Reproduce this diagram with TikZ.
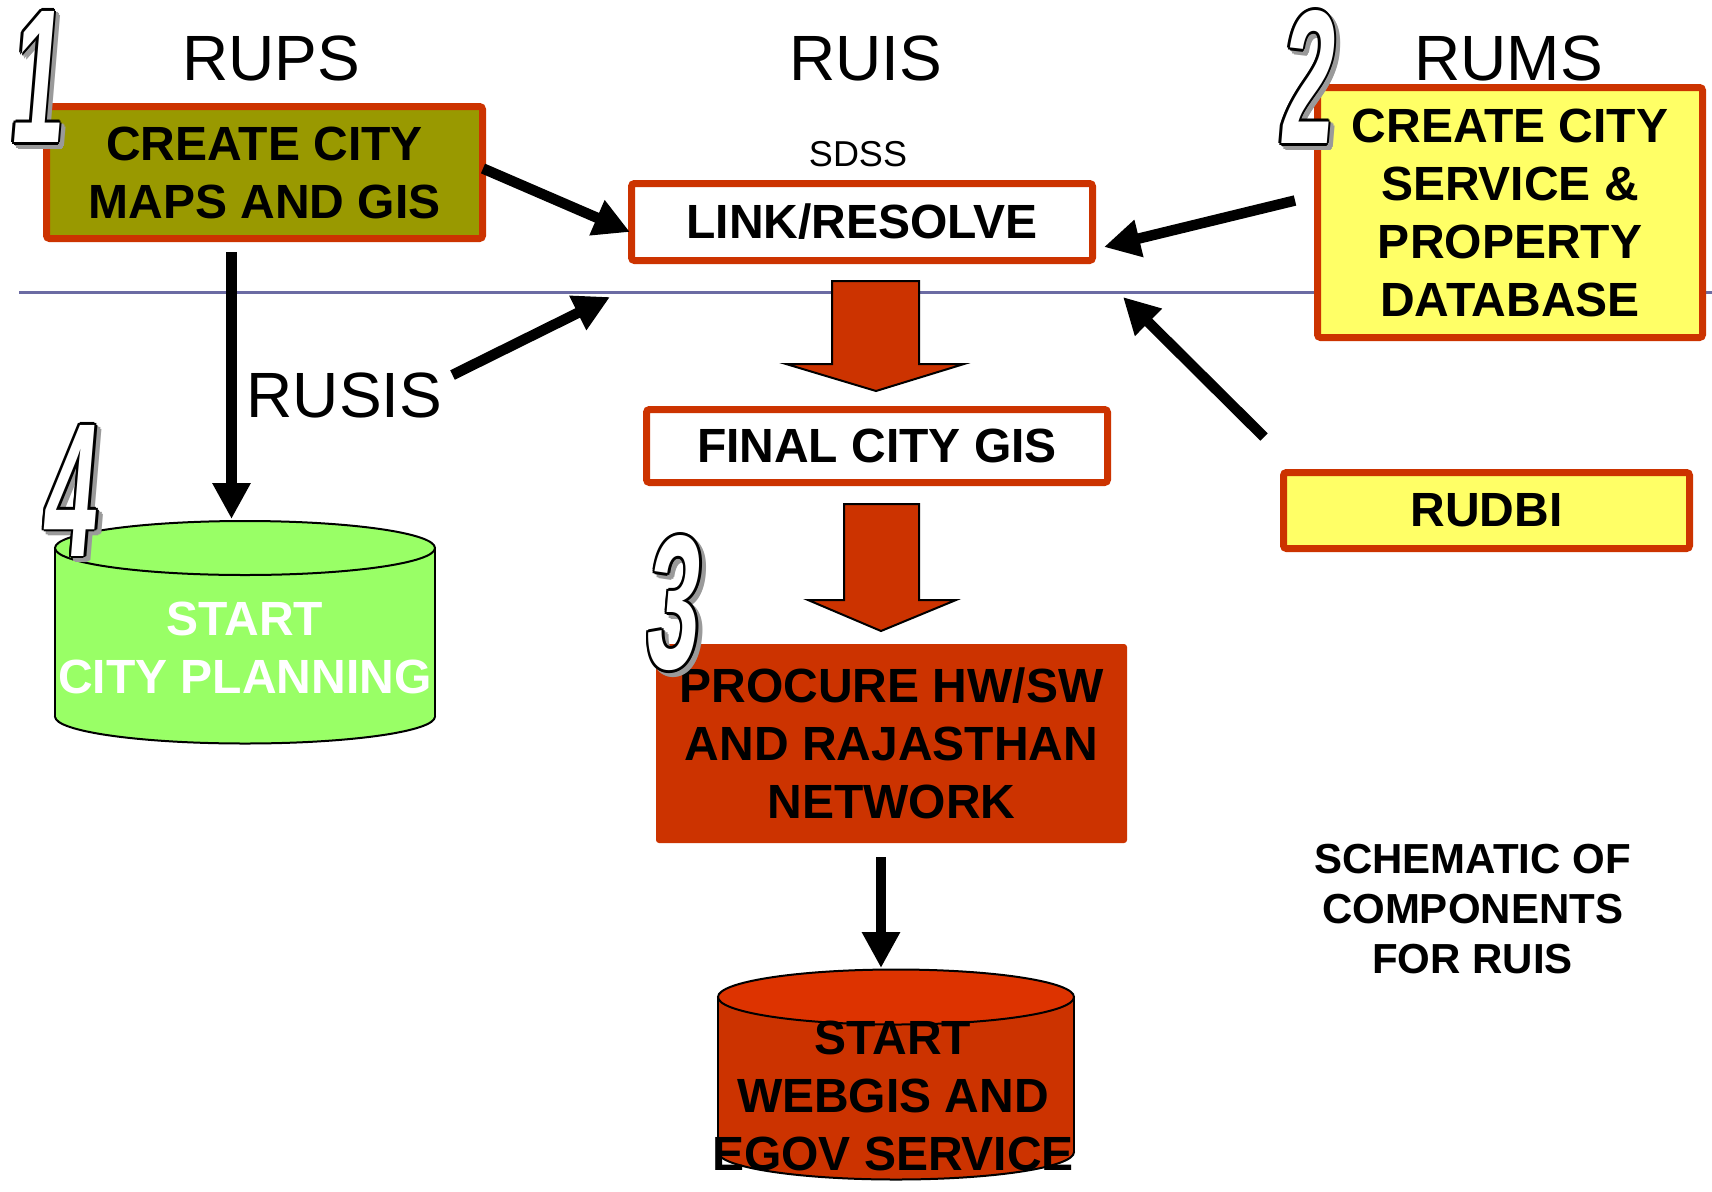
\documentclass[tikz,border=0pt]{standalone}
\usepackage{fontspec}
\setmainfont{Liberation Sans}
\usetikzlibrary{arrows.meta,calc}

\definecolor{brick}{HTML}{CC3300}
\definecolor{olivefill}{HTML}{999900}
\definecolor{lemon}{HTML}{FFFF66}
\definecolor{mint}{HTML}{99FF66}
\definecolor{drumtop}{HTML}{DD3300}
\definecolor{rulecol}{HTML}{6B6BA3}
\definecolor{shadowgray}{HTML}{9A9A9A}

\newcommand\boxfont{\fontsize{48}{58}\selectfont\bfseries}
\newcommand\titlefont{\fontsize{64}{70}\selectfont}
\newcommand\numeralfont{\fontsize{150}{150}\selectfont\bfseries}

% outlined, slanted step numeral with a grey drop shadow
\newcommand\drawnumeral[4]{%
  \foreach \dx/\dy [count=\k] in {2.6/0,-2.6/0,0/2.6,0/-2.6,1.8/1.8,1.8/-1.8,-1.8/1.8,-1.8/-1.8}{%
    \node[numeral, text=shadowgray] (#1-s\k) at ({#2+\dx+4},{#3+\dy+4}) {#4};
  }%
  \foreach \dx/\dy [count=\k] in {2.6/0,-2.6/0,0/2.6,0/-2.6,1.8/1.8,1.8/-1.8,-1.8/1.8,-1.8/-1.8}{%
    \node[numeral, text=black] (#1-o\k) at ({#2+\dx},{#3+\dy}) {#4};
  }%
  \node[numeral, text=white] (#1) at (#2,#3) {#4};
}

% database drum: left x, right x, top-ellipse y, bottom-ellipse y, y radius, body colour, top colour
\newcommand\drum[7]{%
  \pgfmathsetmacro\drumcx{(#1+#2)/2}%
  \pgfmathsetmacro\drumrx{(#2-#1)/2}%
  \filldraw[fill=#6, draw=black, line width=2pt] (\drumcx,#4) ellipse[x radius=\drumrx, y radius=#5];
  \fill[#6] (#1,#3) rectangle (#2,#4);
  \draw[line width=2pt] (#1,#3) -- (#1,#4) (#2,#3) -- (#2,#4);
  \filldraw[fill=#7, draw=black, line width=2pt] (\drumcx,#3) ellipse[x radius=\drumrx, y radius=#5];
}

\tikzset{
  redbox/.style={draw=brick, line width=7pt, rounded corners=3pt, inner sep=0pt,
                 align=center, font=\boxfont},
  title/.style={font=\titlefont, inner sep=0pt},
  label/.style={inner sep=0pt, align=center},
  conn/.style={line width=10.5pt, -{Triangle[length=36pt,width=36pt]}},
  blockarrow/.style={fill=brick, draw=black, line width=2pt, line join=miter},
  numeral/.style={font=\numeralfont, inner sep=0pt, xscale=0.63, yscale=1.27, xslant=0.17},
}

\begin{document}
\begin{tikzpicture}[x=1pt, y=-1pt]
\useasboundingbox (0,0) rectangle (1712,1191);
\fill[white] (0,0) rectangle (1712,1191);

% separating rule
\draw[rulecol, line width=3pt] (19,292) -- (1712,292);

% column titles
\node[title] (rups) at (271,58) {RUPS};
\node[title] (ruis) at (866,58) {RUIS};
\node[title] (rums) at (1508.5,58) {RUMS};
\node[title] (rusis) at (344.5,395) {RUSIS};
\node[label, font=\fontsize{36}{40}\selectfont] (sdss) at (858,154) {SDSS};

% process boxes
\node[redbox, fill=olivefill, minimum width=436pt, minimum height=132pt] (b1) at (264.5,172.5) {CREATE CITY\\MAPS AND GIS};
\node[redbox, fill=lemon, minimum width=385pt, minimum height=250pt] (b2) at (1510,212.5) {CREATE CITY\\SERVICE \&\\PROPERTY\\DATABASE};
\node[redbox, fill=white, minimum width=461pt, minimum height=77pt] (link) at (862,222) {LINK/RESOLVE};
\node[redbox, fill=white, minimum width=461pt, minimum height=73pt] (final) at (877,446) {FINAL CITY GIS};
\node[redbox, fill=lemon, minimum width=406pt, minimum height=76pt] (rudbi) at (1486.5,510.5) {RUDBI};
\node[fill=brick, rounded corners=3pt, inner sep=0pt, align=center, font=\boxfont,
      minimum width=471pt, minimum height=199pt] (proc) at (891.5,743.5) {PROCURE HW/SW\\AND RAJASTHAN\\NETWORK};

% block arrows down the middle column
\draw[blockarrow] (832,281) -- (919,281) -- (919,364) -- (964,364) -- (876,391) -- (786,364) -- (832,364) -- cycle;
\draw[blockarrow] (844,504) -- (919,504) -- (919,600) -- (956,600) -- (881,631) -- (808,600) -- (844,600) -- cycle;

% databases
\drum{55}{435}{548}{716.5}{27}{mint}{mint}
\node[label, font=\boxfont, text=white] (plan) at (245,648) {START\\CITY PLANNING};
\drum{718}{1074}{997}{1152}{27.5}{brick}{drumtop}
\node[label, font=\boxfont] (web) at (893,1096) {START\\WEBGIS AND\\EGOV SERVICE};

\node[label, font=\fontsize{42}{50}\selectfont\bfseries] (schem) at (1472.5,909) {SCHEMATIC OF\\COMPONENTS\\FOR RUIS};

% connector end points
\coordinate (rusisTip) at (610,297);
\coordinate (rudbiTip) at (1123,297);
\coordinate (planTop) at (231.5,519);
\coordinate (webTop) at (881,968);

% connectors
\draw[conn] ($(b1.east)+(-3,-4)$) -- ($(link.west)+(2,10)$);
\draw[conn] ($(rusis.east)+(10,-20)$) -- (rusisTip);
\draw[conn] ($(b2.west)+(-19,-12)$) -- ($(link.east)+(8,25)$);
\draw[conn] ($(rudbi.north west)+(-16,-32)$) -- (rudbiTip);
\draw[conn] ($(b1.south)+(-33,10)$) -- (planTop);
\draw[conn] ($(proc.south)+(-10.5,14)$) -- (webTop);

% step numerals
\drawnumeral{n1}{40}{77}{1}
\drawnumeral{n2}{1310}{77}{2}
\drawnumeral{n3}{675.5}{603}{3}
\drawnumeral{n4}{72.5}{490.5}{4}
\end{tikzpicture}
\end{document}
